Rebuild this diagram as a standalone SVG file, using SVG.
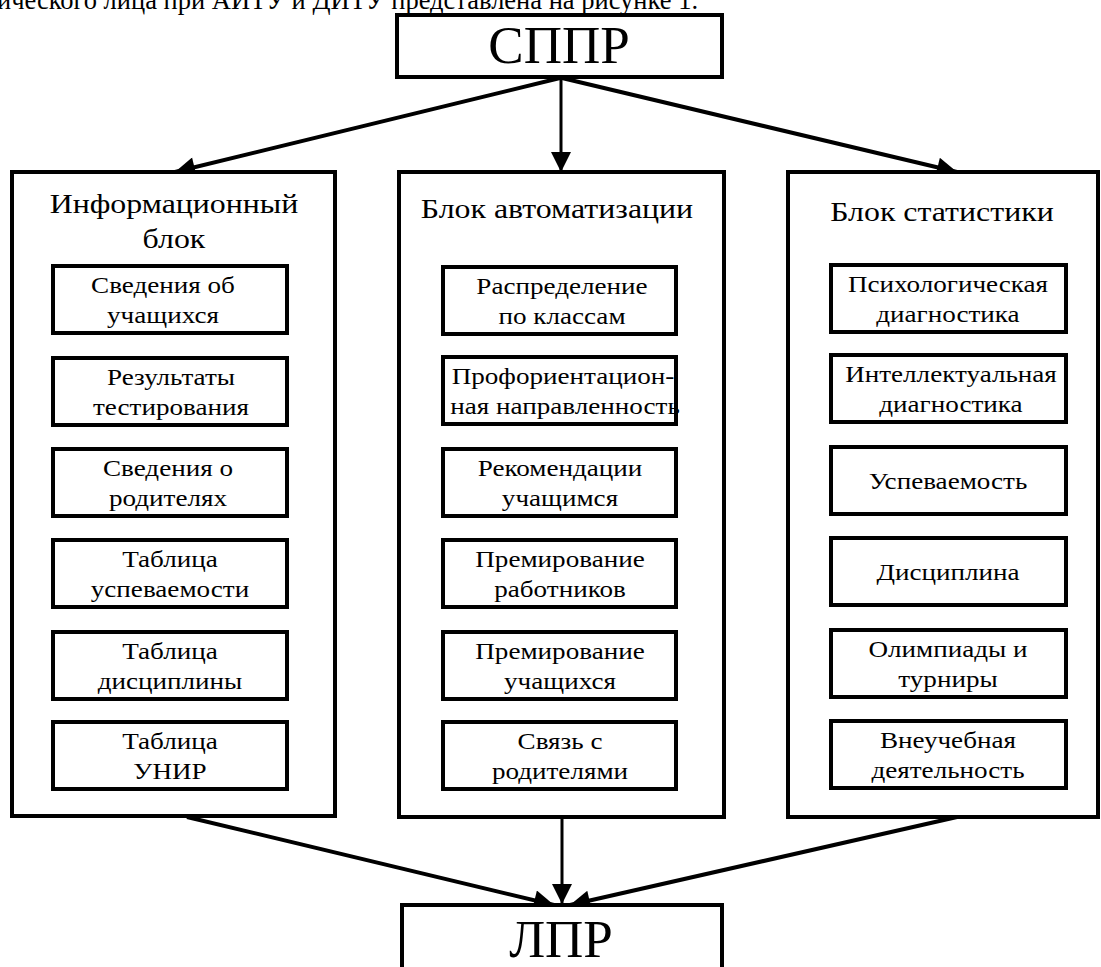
<svg xmlns="http://www.w3.org/2000/svg" width="1101" height="967" viewBox="0 0 1101 967">
<defs>
<style>
text{font-family:"Liberation Serif","Times New Roman",serif;fill:#000;text-anchor:middle}
.big{font-size:53px}
.title{font-size:27px;transform-box:fill-box;transform-origin:center;transform:scaleX(1.18)}
.item{font-size:24px;transform-box:fill-box;transform-origin:center;transform:scaleX(1.13)}
.top{font-size:26.5px;text-anchor:start}
.box{fill:#fff;stroke:#000;stroke-width:4}
.conn{stroke:#000;stroke-width:4;fill:none}
.conn2{stroke:#000;stroke-width:3;fill:none}
</style>
<marker id="ah" viewBox="0 0 10 10" refX="10" refY="5" markerWidth="25" markerHeight="20" markerUnits="userSpaceOnUse" orient="auto">
<path d="M0,0 L10,5 L0,10 z" fill="#000"/>
</marker>
</defs>
<rect width="1101" height="967" fill="#fff"/>
<text class="top" x="-3" y="9">ического лица при АИТУ и ДИТУ представлена на рисунке 1.</text>

<g id="connectors">
<line class="conn" x1="560" y1="78" x2="175" y2="172" marker-end="url(#ah)"/>
<line class="conn2" x1="561" y1="78" x2="561" y2="172" marker-end="url(#ah)"/>
<line class="conn" x1="562" y1="78" x2="957" y2="172" marker-end="url(#ah)"/>
<line class="conn" x1="187" y1="817" x2="554" y2="905" marker-end="url(#ah)"/>
<line class="conn2" x1="562" y1="817" x2="562" y2="904" marker-end="url(#ah)"/>
<line class="conn" x1="957" y1="817" x2="570" y2="905" marker-end="url(#ah)"/>
</g>

<g id="sppr">
<rect class="box" x="397" y="15" width="325" height="62"/>
<text class="big" x="559" y="63">СППР</text>
</g>

<g id="info-block">
<rect class="box" x="12" y="172" width="323" height="644"/>
<text class="title" x="174" y="213">Информационный</text>
<text class="title" x="174" y="248">блок</text>
</g>
<g id="auto-block">
<rect class="box" x="399" y="172" width="325" height="645"/>
<text class="title" x="557" y="218">Блок автоматизации</text>
</g>
<g id="stat-block">
<rect class="box" x="788" y="172" width="310" height="645"/>
<text class="title" x="942" y="221">Блок статистики</text>
</g>

<g id="i1"><rect class="box" x="53" y="266" width="234" height="67"/><text class="item" x="163" y="293">Сведения об</text><text class="item" x="163" y="323">учащихся</text></g>
<g id="i2"><rect class="box" x="53" y="358" width="234" height="67"/><text class="item" x="171" y="385">Результаты</text><text class="item" x="171" y="415">тестирования</text></g>
<g id="i3"><rect class="box" x="53" y="449" width="234" height="67"/><text class="item" x="168" y="476">Сведения о</text><text class="item" x="168" y="506">родителях</text></g>
<g id="i4"><rect class="box" x="53" y="540" width="234" height="67"/><text class="item" x="170" y="567">Таблица</text><text class="item" x="170" y="597">успеваемости</text></g>
<g id="i5"><rect class="box" x="53" y="632" width="234" height="67"/><text class="item" x="170" y="659">Таблица</text><text class="item" x="170" y="689">дисциплины</text></g>
<g id="i6"><rect class="box" x="53" y="722" width="234" height="67"/><text class="item" x="170" y="749">Таблица</text><text class="item" x="170" y="779">УНИР</text></g>

<g id="a1"><rect class="box" x="443" y="267" width="233" height="67"/><text class="item" x="562" y="294">Распределение</text><text class="item" x="562" y="324">по  классам</text></g>
<g id="a2"><rect class="box" x="443" y="357" width="233" height="67"/><text class="item" x="563" y="384">Профориентацион-</text><text class="item" x="565" y="414">ная направленность</text></g>
<g id="a3"><rect class="box" x="443" y="449" width="233" height="67"/><text class="item" x="560" y="476">Рекомендации</text><text class="item" x="560" y="506">учащимся</text></g>
<g id="a4"><rect class="box" x="443" y="540" width="233" height="67"/><text class="item" x="560" y="567">Премирование</text><text class="item" x="560" y="597">работников</text></g>
<g id="a5"><rect class="box" x="443" y="632" width="233" height="67"/><text class="item" x="560" y="659">Премирование</text><text class="item" x="560" y="689">учащихся</text></g>
<g id="a6"><rect class="box" x="443" y="722" width="233" height="67"/><text class="item" x="560" y="749">Связь с</text><text class="item" x="560" y="779">родителями</text></g>

<g id="s1"><rect class="box" x="831" y="265" width="235" height="67"/><text class="item" x="948" y="292">Психологическая</text><text class="item" x="948" y="322">диагностика</text></g>
<g id="s2"><rect class="box" x="831" y="355" width="235" height="67"/><text class="item" x="951" y="382">Интеллектуальная</text><text class="item" x="951" y="412">диагностика</text></g>
<g id="s3"><rect class="box" x="831" y="447" width="235" height="67"/><text class="item" x="948" y="489">Успеваемость</text></g>
<g id="s4"><rect class="box" x="831" y="538" width="235" height="67"/><text class="item" x="948" y="580">Дисциплина</text></g>
<g id="s5"><rect class="box" x="831" y="630" width="235" height="67"/><text class="item" x="948" y="657">Олимпиады и</text><text class="item" x="948" y="687">турниры</text></g>
<g id="s6"><rect class="box" x="831" y="721" width="235" height="67"/><text class="item" x="948" y="748">Внеучебная</text><text class="item" x="948" y="778">деятельность</text></g>

<g id="lpr">
<rect class="box" x="402" y="905" width="320" height="80"/>
<text class="big" x="561" y="957">ЛПР</text>
</g>
</svg>
